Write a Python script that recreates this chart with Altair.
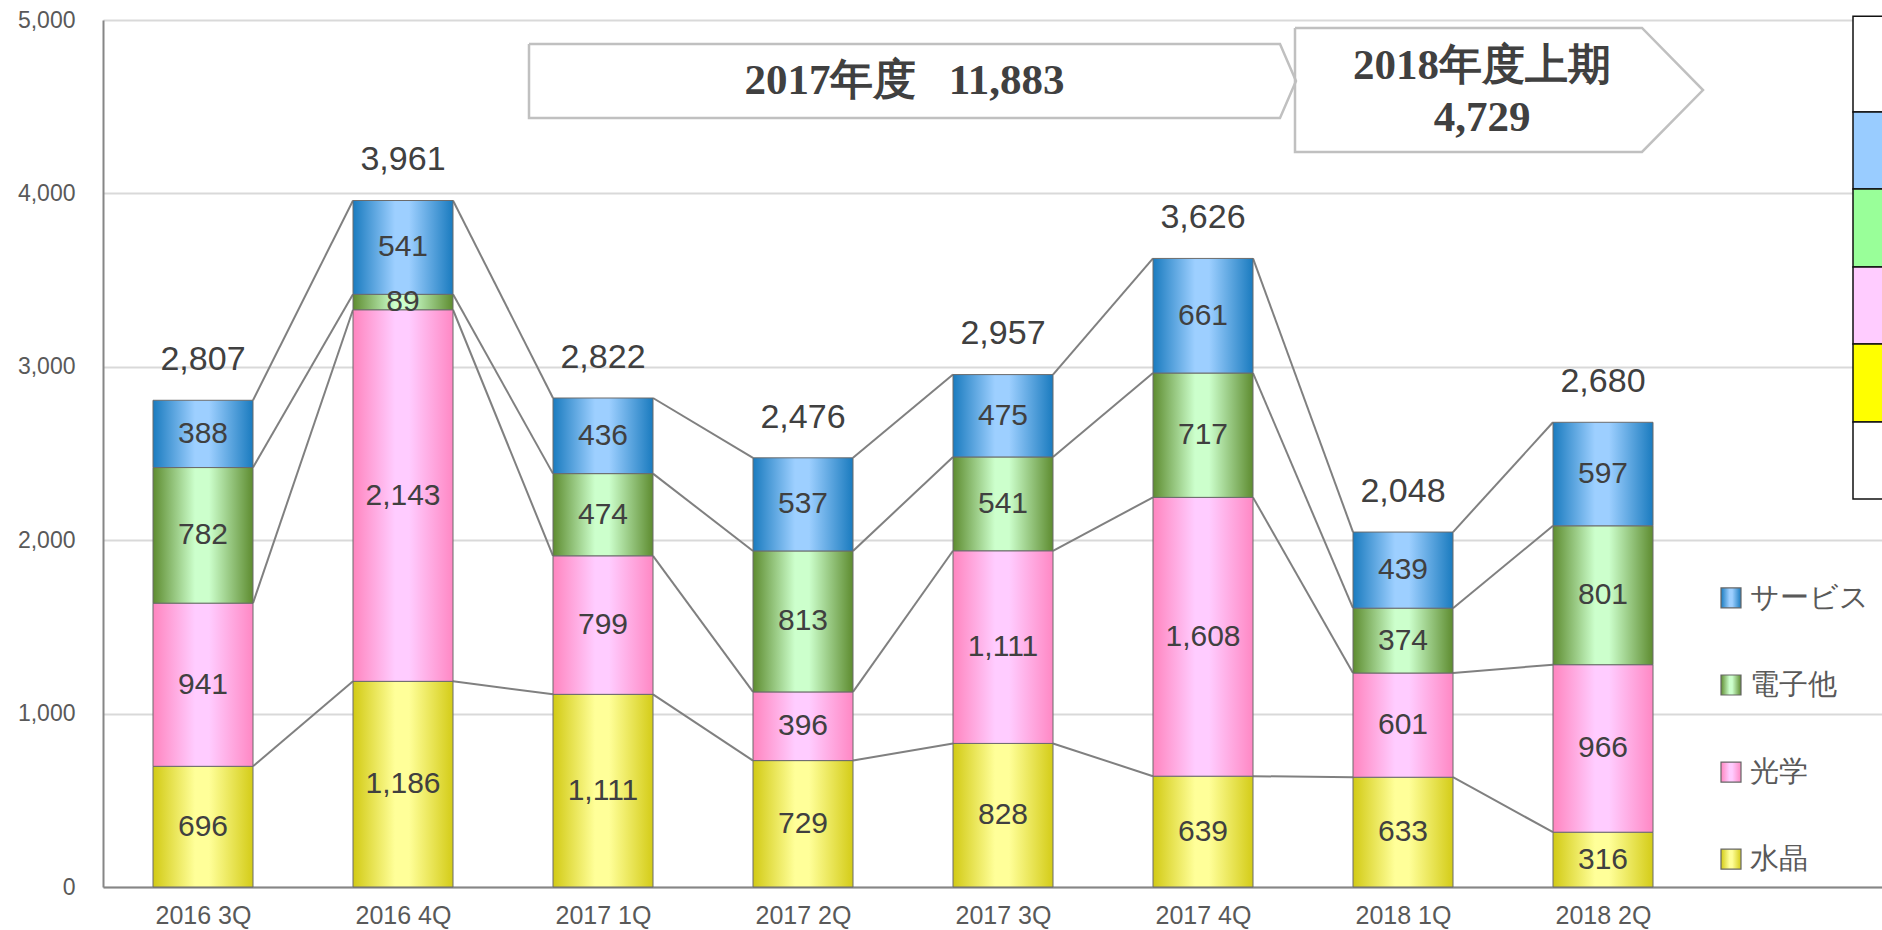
import altair as alt
import pandas as pd

# ---------------- data ----------------
quarters = ["2016 3Q", "2016 4Q", "2017 1Q", "2017 2Q", "2017 3Q", "2017 4Q", "2018 1Q", "2018 2Q"]
series_names = ["水晶", "光学", "電子他", "サービス"]          # bottom -> top
crystal = [696, 1186, 1111, 729, 828, 639, 633, 316]
optics = [941, 2143, 799, 396, 1111, 1608, 601, 966]
electronics = [782, 89, 474, 813, 541, 717, 374, 801]
service = [388, 541, 436, 537, 475, 661, 439, 597]
totals = [2807, 3961, 2822, 2476, 2957, 3626, 2048, 2680]
fy2017_label = "2017年度\u00a0\u00a0\u00a011,883"
fy2018_label = ["2018年度上期", "4,729"]
y_ticks = [0, 1000, 2000, 3000, 4000, 5000]

series_values = [crystal, optics, electronics, service]

# ---------------- styles ----------------
def grad(stops):
    return alt.Gradient(
        gradient="linear",
        stops=[alt.GradientStop(offset=o, color=c) for o, c in stops],
        x1=0, x2=1, y1=0, y2=0,
    )

fills = {
    "水晶": grad([(0, "#d2ca14"), (0.42, "#ffff99"), (0.56, "#ffff99"), (1, "#d4cc18")]),
    "光学": grad([(0, "#ff85bf"), (0.42, "#ffccff"), (0.56, "#ffccff"), (1, "#ff88c4")]),
    "電子他": grad([(0, "#5e8c30"), (0.42, "#ccffcc"), (0.56, "#ccffcc"), (1, "#5e8c30")]),
    "サービス": grad([(0, "#1a7bbf"), (0.42, "#9dcfff"), (0.56, "#9dcfff"), (1, "#1a7bbf")]),
}
strip_colors = ["#ffffff", "#99ccff", "#99ff99", "#ffccff", "#ffff00", "#ffffff"]

TEXT = "#404040"
AXIS_TEXT = "#595959"
SANS = "Liberation Sans"
SERIF = "Liberation Serif"

# ---------------- tables ----------------
rows = []
for qi, q in enumerate(quarters):
    base = 0
    for s, vals in zip(series_names, series_values):
        v = vals[qi]
        rows.append(dict(i=qi, quarter=q, series=s, value=v,
                         lo=base, hi=base + v, mid=base + v / 2,
                         xl=qi - 0.25, xr=qi + 0.25))
        base += v
bars = pd.DataFrame(rows)

cum = []
for k in range(len(series_names)):
    cum.append([sum(series_values[j][qi] for j in range(k + 1)) for qi in range(len(quarters))])
conn = []
for qi in range(len(quarters) - 1):
    for k in range(len(series_names)):
        conn.append(dict(x=qi + 0.25, x2=qi + 0.75, y=cum[k][qi], y2=cum[k][qi + 1]))
conn = pd.DataFrame(conn)

tot = pd.DataFrame(dict(i=list(range(len(quarters))), total=totals))

# ---------------- layout (data units) ----------------
W, H = 1779, 867
xscale = alt.Scale(domain=[-0.5, 8.395], nice=False, zero=False)
yscale = alt.Scale(domain=[0, 5000], nice=False, zero=True)

label_expr = "[" + ",".join("'%s'" % q for q in quarters) + "][datum.value]"

x_axis = alt.Axis(values=list(range(len(quarters))), labelExpr=label_expr, title=None,
                  ticks=False, grid=False, domain=True, domainColor="#868686", domainWidth=2,
                  labelFontSize=25, labelColor=AXIS_TEXT, labelFont=SANS, labelPadding=16,
                  labelOverlap=False, labelFlush=False)
y_axis = alt.Axis(values=y_ticks, labelExpr="format(datum.value, ',')", title=None, ticks=False,
                  grid=True, gridColor="#d9d9d9", gridWidth=2, domain=True, domainColor="#868686",
                  domainWidth=2, labelFontSize=23, labelColor=AXIS_TEXT, labelFont=SANS,
                  labelPadding=28, labelOverlap=False, labelFlush=False)


def X(f):
    return alt.X(f, type="quantitative", scale=xscale, axis=x_axis)


def Y(f):
    return alt.Y(f, type="quantitative", scale=yscale, axis=y_axis)


layers = []

# connectors
layers.append(alt.Chart(conn).mark_rule(color="#808080", strokeWidth=2).encode(
    x=X("x:Q"), x2="x2:Q", y=Y("y:Q"), y2="y2:Q"))

# bars
for s in series_names:
    layers.append(alt.Chart(bars).transform_filter(alt.datum.series == s).mark_bar(
        fill=fills[s], stroke="#6b6b6b", strokeWidth=1).encode(
        x=X("xl:Q"), x2="xr:Q", y=Y("lo:Q"), y2="hi:Q"))

# segment labels
layers.append(alt.Chart(bars).mark_text(font=SANS, fontSize=30, color=TEXT, baseline="middle").encode(
    x=X("i:Q"), y=Y("mid:Q"), text=alt.Text("value:Q", format=",")))

# totals
layers.append(alt.Chart(tot).mark_text(font=SANS, fontSize=34, color=TEXT, baseline="middle", dy=-40).encode(
    x=X("i:Q"), y=Y("total:Q"), text=alt.Text("total:Q", format=",")))

# period arrow boxes
box_pts = pd.DataFrame([
    dict(b="a", o=0, x=1.63, y=4862), dict(b="a", o=1, x=5.385, y=4862), dict(b="a", o=2, x=5.465, y=4648),
    dict(b="a", o=3, x=5.385, y=4435), dict(b="a", o=4, x=1.63, y=4435), dict(b="a", o=5, x=1.63, y=4862),
    dict(b="b", o=0, x=5.46, y=4954), dict(b="b", o=1, x=7.195, y=4954), dict(b="b", o=2, x=7.5, y=4596),
    dict(b="b", o=3, x=7.195, y=4239), dict(b="b", o=4, x=5.46, y=4239), dict(b="b", o=5, x=5.46, y=4954),
])
layers.append(alt.Chart(box_pts).mark_line(color="#c0c0c0", strokeWidth=2.5, strokeJoin="miter").encode(
    x=X("x:Q"), y=Y("y:Q"), detail="b:N", order="o:Q"))

box_text = pd.DataFrame([
    dict(t=fy2017_label, x=3.5075, y=4648),
    dict(t=fy2018_label[0], x=6.395, y=4735),
    dict(t=fy2018_label[1], x=6.395, y=4435),
])
layers.append(alt.Chart(box_text).mark_text(font=SERIF, fontWeight="bold", fontSize=43, color=TEXT,
                                            baseline="middle").encode(
    x=X("x:Q"), y=Y("y:Q"), text="t:N"))

# manual legend
legend_y = {"サービス": 1667, "電子他": 1165, "光学": 663, "水晶": 161}
for s in series_names:
    d = pd.DataFrame([dict(name=s, x=7.64, tx=7.735, y=legend_y[s])])
    layers.append(alt.Chart(d).mark_square(fill=fills[s], stroke="#666666", strokeWidth=1.2,
                                           size=400, opacity=1, filled=True).encode(
        x=X("x:Q"), y=Y("y:Q")))
    layers.append(alt.Chart(d).mark_text(font=SANS, fontSize=29, color=AXIS_TEXT, align="left",
                                         baseline="middle").encode(
        x=X("tx:Q"), y=Y("y:Q"), text="name:N"))

# cropped strip on the right edge
strip_edges = [5022, 4469, 4025, 3576, 3131, 2682, 2238]
strip = pd.DataFrame([dict(k=i, x=8.25, x2=8.6, y=strip_edges[i], y2=strip_edges[i + 1], c=strip_colors[i])
                      for i in range(len(strip_colors))])
layers.append(alt.Chart(strip).mark_rect(stroke="#111111", strokeWidth=1.5).encode(
    x=X("x:Q"), x2="x2:Q", y=Y("y:Q"), y2="y2:Q", fill=alt.Fill("c:N", scale=None)))

chart = alt.layer(*layers).properties(
    width=W, height=H,
    autosize=alt.AutoSizeParams(type="none"),
    padding={"left": 103, "top": 20, "right": 0, "bottom": 43},
    background="white",
).configure_view(stroke=None)

chart.save("out.html", embed_options={"renderer": "svg", "actions": False})
